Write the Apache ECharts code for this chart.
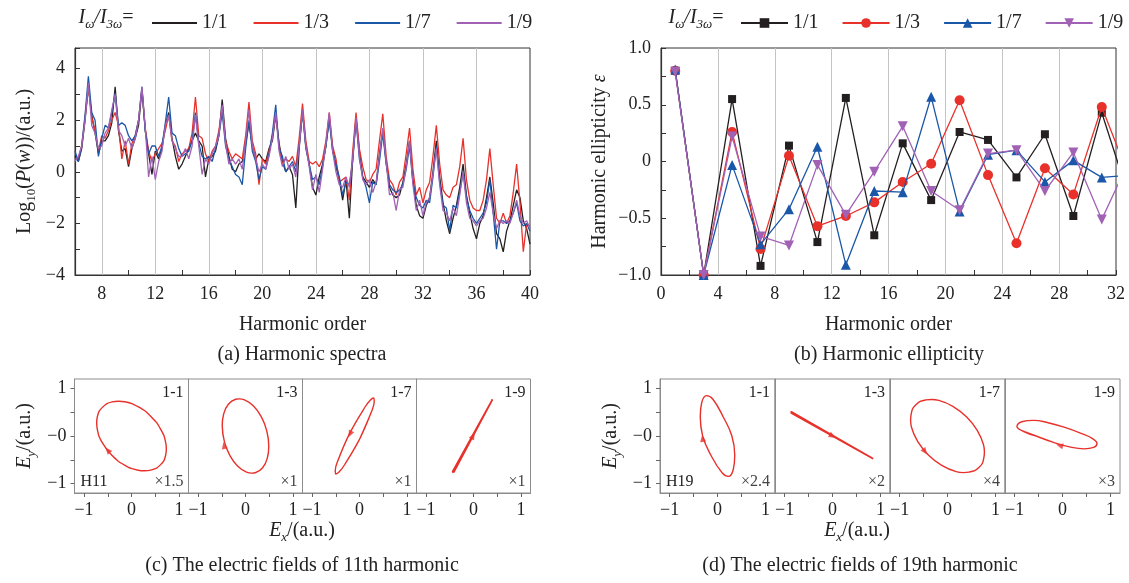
<!DOCTYPE html>
<html><head><meta charset="utf-8">
<script src="https://cdn.jsdelivr.net/npm/echarts@6/dist/echarts.min.js"></script>
<style>html,body{margin:0;padding:0;background:#fff}#c{width:1129px;height:583px}</style>
</head><body><div id="c"></div>
<script>
const FONT = '"Liberation Serif","Times New Roman","DejaVu Serif",serif';

// ---------- (a) Harmonic spectra : log10 P(w), harmonic order 6..40 step 0.25 ----------
const specStart = 6, specStep = 0.25;
const spec11 = [
 0.6,0.4,0.9,2.0, 3.3,2.2,1.5,0.7,
 1.2,1.2,1.4,1.9, 3.3,1.6,0.8,0.9,
 0.2,0.9,1.3,1.8, 3.2,1.6,0.7,-0.1,
 0.8,0.5,0.9,1.8, 2.3,1.3,0.6,0.1,
 0.3,0.6,0.9,1.2, 1.5,1.2,1.0,-0.2,
 0.5,0.6,0.8,1.4, 2.8,1.3,0.6,0.1,
 0.0,0.3,0.4,1.1, 1.9,1.0,0.5,0.7,
 0.5,0.4,0.9,1.2, 2.2,1.1,0.4,0.0,
 0.2,-0.1,-1.4,0.9, 2.4,1.0,0.3,-0.6,
 -0.9,-0.2,0.3,1.0, 2.1,0.9,0.2,-0.3,
 -1.1,-0.3,-1.8,0.5, 2.1,0.8,-0.2,-0.4,
 -0.6,-0.3,-0.5,0.7, 1.6,0.4,-0.6,-0.9,
 -1.0,-0.9,-0.4,0.3, 1.2,-0.3,-1.3,-1.7,
 -1.8,-1.3,-1.0,0.0, 1.2,-0.2,-1.2,-1.9,
 -2.4,-1.8,-1.3,-0.6, 0.3,-0.9,-1.6,-2.2,
 -2.6,-2.0,-1.7,-1.0, -0.2,-1.2,-2.4,-2.6,
 -3.1,-2.3,-1.9,-1.3, -0.7,-1.0,-1.9,-2.2,
 -2.8];
const spec13 = [
 0.5,0.5,1.0,2.1, 3.3,2.1,1.6,0.8,
 1.4,1.3,1.6,2.0, 2.3,1.8,0.5,1.2,
 0.3,1.1,1.4,2.0, 3.2,1.7,0.8,0.4,
 0.7,0.9,1.1,1.6, 2.2,1.2,1.0,0.4,
 0.7,0.8,0.9,1.5, 2.9,1.4,1.3,0.7,
 0.4,0.8,1.0,1.6, 2.5,1.2,0.8,0.5,
 0.7,0.6,0.5,1.4, 2.7,1.2,0.7,-0.5,
 0.5,0.3,0.8,1.4, 2.3,1.0,0.3,0.5,
 0.4,0.6,0.2,1.3, 2.65,1.2,0.4,0.3,
 0.4,0.2,0.5,1.2, 2.3,1.0,0.5,-0.4,
 -0.3,-0.2,-1.1,0.8, 2.3,0.9,0.2,-0.3,
 -0.4,-0.1,0.1,1.2, 2.25,0.6,-0.3,-0.5,
 -0.9,-0.4,-0.2,0.7, 1.7,0.1,-0.9,-0.6,
 -1.2,-0.7,-0.4,0.6, 1.8,0.3,-0.7,-0.9,
 -1.0,-0.6,-0.5,0.2, 1.3,-0.3,-1.1,-1.4,
 -1.5,-1.5,-1.1,-0.3, 0.9,-0.5,-1.8,-2.0,
 -1.6,-2.0,-1.7,-0.8, 0.3,-1.2,-3.1,-2.0,
 -2.1];
const spec17 = [
 0.8,0.4,1.0,2.2, 3.7,2.3,2.0,0.6,
 1.3,1.8,1.7,2.3, 3.05,1.8,1.9,1.8,
 1.4,1.2,1.4,2.0, 3.3,1.6,0.7,1.0,
 1.0,0.6,1.0,1.9, 2.9,1.5,1.4,0.9,
 0.6,0.7,0.8,1.2, 2.3,1.1,0.6,0.5,
 0.6,0.4,0.9,1.4, 2.3,1.0,0.5,0.2,
 -0.1,-0.2,-0.5,0.9, 2.0,0.8,0.4,-0.3,
 0.2,0.1,0.7,1.5, 2.6,0.9,0.6,0.0,
 0.2,0.4,0.0,1.0, 2.3,0.9,0.3,-0.3,
 -0.2,-0.5,0.2,1.0, 2.0,0.8,0.3,-0.2,
 -0.9,-0.4,-0.5,0.4, 2.0,0.5,-0.2,-0.6,
 -1.2,-0.4,-0.5,0.4, 1.5,0.3,-0.5,-0.7,
 -0.8,-0.7,-0.5,0.1, 1.0,-0.4,-1.0,-1.3,
 -1.4,-1.1,-1.2,-0.2, 1.0,-0.4,-1.3,-1.4,
 -2.3,-1.3,-1.4,-0.8, 0.0,-1.0,-1.5,-1.8,
 -2.0,-1.8,-1.6,-1.2, -0.3,-1.6,-3.0,-1.9,
 -1.9,-2.0,-1.9,-1.6, -1.2,-1.9,-2.1,-2.0,
 -2.3];
const spec19 = [
 0.4,0.6,1.0,2.0, 3.45,1.8,1.5,0.9,
 1.0,1.5,1.7,2.4, 3.0,1.6,1.4,1.0,
 1.3,0.9,1.3,2.0, 3.3,1.7,-0.2,0.6,
 -0.3,0.4,0.8,1.8, 2.2,1.2,0.9,0.6,
 0.6,0.9,0.5,1.0, 2.2,1.0,-0.1,0.5,
 0.3,0.7,1.0,1.4, 2.6,1.1,0.3,0.5,
 0.3,0.5,0.1,1.2, 2.4,1.0,0.5,0.0,
 0.3,0.1,0.6,1.3, 2.3,0.8,0.2,0.6,
 0.1,0.3,-0.2,1.0, 2.4,1.0,0.2,-0.7,
 -0.1,-0.8,0.1,1.1, 2.3,0.8,0.0,-0.5,
 -0.6,-0.2,-0.6,0.5, 2.1,0.6,-0.3,-0.5,
 -0.3,-0.8,-0.4,0.6, 1.7,0.4,-0.9,-0.8,
 -1.5,-0.7,-0.6,0.2, 1.2,-0.5,-1.5,-1.1,
 -1.7,-1.2,-1.0,-0.1, 0.9,-0.5,-1.5,-1.6,
 -1.9,-1.4,-1.7,-0.9, 0.0,-1.2,-1.8,-1.9,
 -2.1,-1.9,-1.8,-1.4, -0.8,-1.6,-2.2,-1.9,
 -2.0,-1.9,-2.0,-1.6, -1.1,-1.7,-2.0,-1.9,
 -2.2];
const specGridLines = [8,12,16,20,24,28,32,36];

// ---------- (b) Harmonic ellipticity ----------
const ellOrders = [1,3,5,7,9,11,13,15,17,19,21,23,25,27,29,31,33];
const ell11 = [0.80,-1.00,0.55,-0.92,0.14,-0.71,0.56,-0.65,0.16,-0.34,0.26,0.19,-0.14,0.24,-0.48,0.43,-0.35];
const ell13 = [0.80,-1.00,0.26,-0.77,0.05,-0.57,-0.48,-0.36,-0.18,-0.02,0.54,-0.12,-0.72,-0.06,-0.29,0.48,-0.16];
const ell17 = [0.81,-1.00,-0.03,-0.73,-0.42,0.13,-0.91,-0.26,-0.27,0.57,-0.44,0.06,0.10,-0.18,0.01,-0.14,-0.12];
const ell19 = [0.79,-1.00,0.22,-0.66,-0.74,-0.03,-0.47,-0.09,0.31,-0.26,-0.43,0.07,0.10,-0.26,0.08,-0.51,0.03];
const ellGridLines = [4,8,12,16,20,24,28];

const ratioNames = ['1/1','1/3','1/7','1/9'];

// ---------- (c) electric fields of H11 (Ex, Ey) ----------
const h11_11 = [[-0.41,-0.41],[-0.612,-0.146],[-0.72,0.14],[-0.733,0.275],[-0.719,0.405],[-0.608,0.608],[-0.405,0.719],[-0.275,0.733],[-0.14,0.72],[0.146,0.612],[0.41,0.41],[0.612,0.146],[0.72,-0.14],[0.733,-0.275],[0.719,-0.405],[0.608,-0.608],[0.405,-0.719],[0.275,-0.733],[0.14,-0.72],[-0.146,-0.612],[-0.41,-0.41],[-0.612,-0.146]];
const h11_13 = [[-0.444,-0.119],[-0.49,0.219],[-0.46,0.463],[-0.361,0.668],[-0.207,0.773],[-0.138,0.782],[-0.021,0.76],[0.168,0.631],[0.331,0.406],[0.444,0.119],[0.49,-0.219],[0.46,-0.463],[0.361,-0.668],[0.207,-0.773],[0.138,-0.782],[0.021,-0.76],[-0.168,-0.631],[-0.331,-0.406],[-0.444,-0.119],[-0.49,0.219]];
const h11_17 = [[0.01,-0.05],[0.26,0.53],[0.31,0.72],[0.3,0.8],[0.23,0.76],[0.11,0.6],[-0.21,0.05],[-0.46,-0.53],[-0.51,-0.72],[-0.5,-0.8],[-0.43,-0.76],[-0.31,-0.6],[0.01,-0.05],[0.26,0.53]];
const h11_19 = [[-0.42,-0.77],[0.4,0.77],[0.37,0.76],[-0.44,-0.75],[-0.42,-0.77]];
const h11Arrows = [[-0.5,-0.3,40],[-0.45,-0.2,12],[-0.2,0.04,153],[-0.01,0.0,-28]];
const h11Scales = ['\u00d71.5','\u00d71','\u00d71','\u00d71'];

// ---------- (d) electric fields of H19 ----------
const h19_11 = [[-0.31,0.0],[-0.36,0.4],[-0.33,0.7],[-0.23,0.85],[-0.1,0.78],[0.12,0.4],[0.3,0.0],[0.36,-0.4],[0.33,-0.7],[0.23,-0.85],[0.1,-0.78],[-0.14,-0.4],[-0.31,0.0],[-0.36,0.4]];
const h19_13 = [[-0.87,0.49],[0.85,-0.48],[0.83,-0.46],[-0.86,0.51],[-0.87,0.49]];
const h19_17 = [[-0.4,-0.4],[-0.62,-0.12],[-0.75,0.18],[-0.77,0.33],[-0.76,0.45],[-0.66,0.66],[-0.45,0.76],[-0.33,0.77],[-0.18,0.75],[0.12,0.62],[0.4,0.4],[0.62,0.12],[0.75,-0.18],[0.77,-0.33],[0.76,-0.45],[0.66,-0.66],[0.45,-0.76],[0.33,-0.77],[0.18,-0.75],[-0.12,-0.62],[-0.4,-0.4],[-0.62,-0.12]];
const h19_19 = [[-0.55,0.0],[-0.82,0.1],[-0.95,0.2],[-0.85,0.3],[-0.6,0.33],[-0.3,0.28],[0.05,0.18],[0.4,0.05],[0.62,-0.05],[0.72,-0.16],[0.65,-0.24],[0.45,-0.27],[0.15,-0.23],[-0.2,-0.13],[-0.55,0.0],[-0.82,0.1]];
const h19Arrows = [[-0.31,-0.05,8],[0.0,0.0,-119],[-0.47,-0.33,-145],[-0.06,-0.2,75]];
const h19Scales = ['\u00d72.4','\u00d72','\u00d74','\u00d73'];

const panelNames = ['1-1','1-3','1-7','1-9'];

// ---------- styles ----------
const COLORS = ['#231f20','#e8312b','#1b57a8','#a162b6'];
const RED = '#e8312b';
const AX = '#333';
const minus = v => (v < 0 ? '\u2212' : '') + Math.abs(v);

const chart = echarts.init(document.getElementById('c'));

const grids = [], xAxes = [], yAxes = [], series = [], graphics = [];

grids.push({left:75, top:48, width:455, height:227, show:true, borderColor:AX, borderWidth:1});
grids.push({left:661, top:48, width:455, height:227, show:true, borderColor:AX, borderWidth:1});

const nameRich = {
  n:{fontSize:20, fontFamily:FONT, color:'#222', lineHeight:26},
  i:{fontSize:20, fontFamily:FONT, fontStyle:'italic', color:'#222', lineHeight:26},
  s:{fontSize:13, fontFamily:FONT, color:'#222', lineHeight:26, verticalAlign:'bottom'},
  si:{fontSize:13, fontFamily:FONT, fontStyle:'italic', color:'#222', lineHeight:26, verticalAlign:'bottom'}
};

const tickLabel = {fontSize:18, fontFamily:FONT, color:'#222'};

xAxes.push({gridIndex:0, type:'value', min:6, max:40, interval:2,
  axisLine:{show:true, onZero:false, lineStyle:{color:AX, width:1.2}},
  axisTick:{show:true, inside:true, length:5, lineStyle:{color:AX}},
  axisLabel:Object.assign({margin:10, formatter:v => (v % 4 === 0 ? String(v) : '')}, tickLabel),
  splitLine:{show:false},
  name:'Harmonic order', nameLocation:'middle', nameGap:40,
  nameTextStyle:{fontSize:20, fontFamily:FONT, color:'#222'}});
yAxes.push({gridIndex:0, type:'value', min:-4, max:4.8, interval:1,
  axisLine:{show:true, onZero:false, lineStyle:{color:AX, width:1.2}},
  axisTick:{show:true, inside:true, length:5, lineStyle:{color:AX}},
  axisLabel:Object.assign({margin:10, formatter:v => (v % 2 === 0 ? minus(v) : '')}, tickLabel),
  splitLine:{show:false},
  name:'{n|Log}{s|10}{n|(}{i|P}{n|(}{i|w}{n|))/(a.u.)}', nameLocation:'middle', nameGap:37,
  nameTextStyle:{rich:nameRich}});

xAxes.push({gridIndex:1, type:'value', min:0, max:32, interval:2,
  axisLine:{show:true, onZero:false, lineStyle:{color:AX, width:1.2}},
  axisTick:{show:true, inside:true, length:5, lineStyle:{color:AX}},
  axisLabel:Object.assign({margin:10, formatter:v => (v % 4 === 0 ? String(v) : '')}, tickLabel),
  splitLine:{show:false},
  name:'Harmonic order', nameLocation:'middle', nameGap:40,
  nameTextStyle:{fontSize:20, fontFamily:FONT, color:'#222'}});
yAxes.push({gridIndex:1, type:'value', min:-1, max:1, interval:0.25,
  axisLine:{show:true, onZero:false, lineStyle:{color:AX, width:1.2}},
  axisTick:{show:true, inside:true, length:5, lineStyle:{color:AX}},
  axisLabel:Object.assign({margin:10, formatter:v => {
     if (Math.abs(v*2 - Math.round(v*2)) > 1e-9) return '';
     if (v === 0) return '0';
     return (v < 0 ? '\u2212' : '') + Math.abs(v).toFixed(1);
  }}, tickLabel),
  splitLine:{show:false},
  name:'{n|Harmonic ellipticity }{i|\u03b5}', nameLocation:'middle', nameGap:48,
  nameTextStyle:{rich:nameRich}});

// series (a)
const specX = spec11.map((_, i) => specStart + i * specStep);
[spec11, spec13, spec17, spec19].forEach((arr, k) => {
  const s = {name:ratioNames[k], type:'line', xAxisIndex:0, yAxisIndex:0,
    data:arr.map((v, i) => [specX[i], v]), symbol:'none', showSymbol:false,
    lineStyle:{color:COLORS[k], width:1.3}, itemStyle:{color:COLORS[k]}, z:3+k};
  if (k === 0) s.markLine = {silent:true, symbol:'none', z:1, label:{show:false},
    lineStyle:{color:'#c4c4c4', type:'solid', width:1}, data:specGridLines.map(v => ({xAxis:v}))};
  series.push(s);
});

// series (b)
const ellSymbols = ['rect','circle','triangle','path://M0,0L10,0L5,9Z'];
const ellSizes = [8,10,10,10];
[ell11, ell13, ell17, ell19].forEach((arr, k) => {
  const s = {name:ratioNames[k] + ' ', type:'line', xAxisIndex:1, yAxisIndex:1,
    data:arr.map((v, i) => [ellOrders[i], v]), symbol:ellSymbols[k], symbolSize:ellSizes[k], showSymbol:true,
    lineStyle:{color:COLORS[k], width:1.3}, itemStyle:{color:COLORS[k]}, z:3+k};
  if (k === 0) s.markLine = {silent:true, symbol:'none', z:1, label:{show:false},
    lineStyle:{color:'#c4c4c4', type:'solid', width:1}, data:ellGridLines.map(v => ({xAxis:v}))};
  series.push(s);
});

// sub-panels (c) and (d)
const rows = [
  {lefts:[74.5,188.5,302.5,416.5], w:114, fields:[h11_11,h11_13,h11_17,h11_19], arrows:h11Arrows, scales:h11Scales, H:'H11',
   smooth:[0.5,0.5,0.35,false]},
  {lefts:[660,775,890,1005], w:115, fields:[h19_11,h19_13,h19_17,h19_19], arrows:h19Arrows, scales:h19Scales, H:'H19',
   smooth:[0.45,false,0.5,0.45]}
];
const subTop = 379, subH = 114, FRAME = '#8c8c8c';
rows.forEach((row, r) => {
  row.lefts.forEach((left, j) => {
    const gi = grids.length;
    grids.push({left:left, top:subTop, width:row.w, height:subH, show:true, borderColor:FRAME, borderWidth:1});
    xAxes.push({gridIndex:gi, type:'value', min:-1.2, max:1.2,
      axisLine:{show:true, onZero:false, lineStyle:{color:FRAME}},
      axisTick:{show:true, customValues:[-1,-0.5,0,0.5,1], length:4, lineStyle:{color:'#666'}},
      axisLabel:Object.assign({customValues:[-1,0,1], margin:8, formatter:minus}, tickLabel),
      splitLine:{show:false}});
    yAxes.push({gridIndex:gi, type:'value', min:-1.2, max:1.2,
      axisLine:{show:true, onZero:false, lineStyle:{color:FRAME}},
      axisTick:{show:j === 0, customValues:[-1,-0.5,0,0.5,1], length:4, lineStyle:{color:'#666'}},
      axisLabel:Object.assign({show:j === 0, customValues:[-1,0,1], margin:8,
        formatter:v => (v === 0 ? '\u22120' : minus(v))}, tickLabel),
      splitLine:{show:false}});
    series.push({type:'line', xAxisIndex:gi, yAxisIndex:gi, data:row.fields[j], smooth:row.smooth[j],
      symbol:'none', lineStyle:{color:RED, width:row.smooth[j] === false ? 1.8 : 1.4}, z:3});
    const a = row.arrows[j];
    series.push({type:'scatter', xAxisIndex:gi, yAxisIndex:gi, symbol:'triangle', symbolSize:[6,7],
      data:[{value:[a[0], a[1]], symbolRotate:a[2]}], itemStyle:{color:RED}, z:4});
    graphics.push({type:'text', x:left + row.w - 5, y:subTop + 14,
      style:{text:panelNames[j], fontSize:16, fontFamily:FONT, fill:'#222', align:'right', verticalAlign:'middle'}});
    graphics.push({type:'text', x:left + row.w - 5, y:subTop + subH - 11,
      style:{text:row.scales[j], fontSize:16, fontFamily:FONT, fill:'#444', align:'right', verticalAlign:'middle'}});
    if (j === 0) graphics.push({type:'text', x:left + 6, y:subTop + subH - 11,
      style:{text:row.H, fontSize:16, fontFamily:FONT, fill:'#222', align:'left', verticalAlign:'middle'}});
  });
});

const gtext = (x, y, text, extra) => Object.assign({type:'text', x:x, y:y,
  style:{text:text, fontSize:20, fontFamily:FONT, fill:'#222', align:'center', verticalAlign:'middle', rich:nameRich}}, extra || {});
graphics.push(gtext(106, 18, '{i|I}{si|\u03c9}{i|/I}{si|3\u03c9}{n|=}'));
graphics.push(gtext(696, 18, '{i|I}{si|\u03c9}{i|/I}{si|3\u03c9}{n|=}'));
graphics.push(gtext(302, 355, '(a) Harmonic spectra'));
graphics.push(gtext(889, 355, '(b) Harmonic ellipticity'));
graphics.push(gtext(302, 531, '{i|E}{si|x}{n|/(a.u.)}'));
graphics.push(gtext(857, 531, '{i|E}{si|x}{n|/(a.u.)}'));
graphics.push(gtext(302, 566, '(c) The electric fields of 11th harmonic'));
graphics.push(gtext(860, 566, '(d) The electric fields of 19th harmonic'));
graphics.push(gtext(25, 436, '{i|E}{si|y}{n|/(a.u.)}', {rotation:Math.PI/2}));
graphics.push(gtext(611, 436, '{i|E}{si|y}{n|/(a.u.)}', {rotation:Math.PI/2}));

const legendBase = {orient:'horizontal', top:8, width:480, itemWidth:45, itemHeight:12, itemGap:26,
  textStyle:{fontSize:20, fontFamily:FONT, color:'#222'}, selectedMode:false, formatter:n => n.trim()};

chart.setOption({
  animation:false,
  textStyle:{fontFamily:FONT},
  grid:grids, xAxis:xAxes, yAxis:yAxes,
  legend:[
    Object.assign({}, legendBase, {left:147, icon:'rect', itemHeight:2, data:ratioNames}),
    Object.assign({}, legendBase, {left:735, itemWidth:47, itemGap:23, data:ratioNames.map(n => n + ' ')})
  ],
  series:series,
  graphic:graphics
});
</script></body></html>
